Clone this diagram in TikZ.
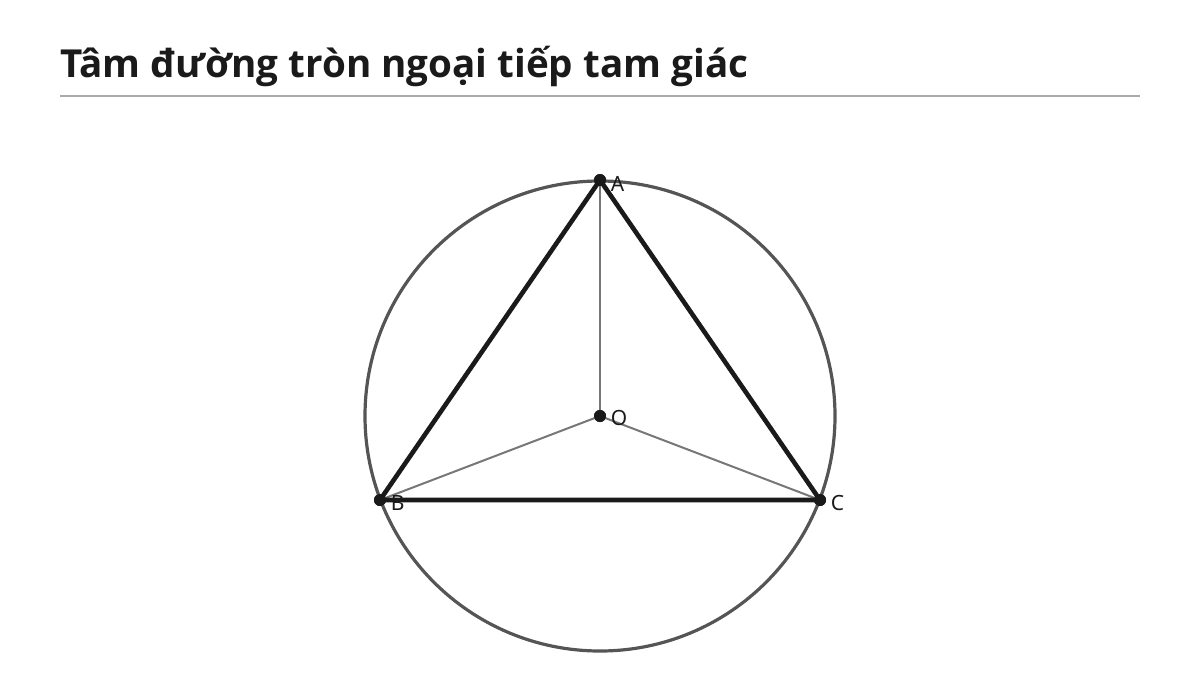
\documentclass[tikz,border=0pt]{standalone}
\usepackage{fontspec}
\setmainfont{Noto Sans}
\newfontfamily\headfont{Open Sans}
\usetikzlibrary{positioning}

\definecolor{ink}{HTML}{1A1A1A}
\definecolor{ringgray}{HTML}{555555}
\definecolor{radgray}{HTML}{777777}
\definecolor{rulegray}{HTML}{AAAAAA}

\begin{document}
\begin{tikzpicture}[
            x=0.5pt, y=-0.5pt,
            pnt/.style={circle, fill=ink, inner sep=0pt, minimum size=6pt},
            lbl/.style={font=\fontsize{10.5}{12}\selectfont, text=ink, inner sep=1pt},
            side/.style={line width=2.3pt, draw=ink},
            rad/.style={line width=1pt, draw=radgray}
        ]
        \useasboundingbox (0,0) rectangle (1200,675);

        % Title
        \node[anchor=base west, inner sep=0pt, text=ink, font=\headfont\fontsize{19.3}{22}\selectfont\bfseries] (title) at (60,77) {Tâm đường tròn ngoại tiếp tam giác};
        \coordinate (ruleL) at (60,96);
        \coordinate (ruleR) at (1140,96);
        \draw[rulegray, line width=1pt] (ruleL) -- (ruleR);

        % Points
        \node[pnt] (O) at (600,416) {};
        \node[pnt] (A) at (600,180) {};
        \node[pnt] (B) at (380,500) {};
        \node[pnt] (C) at (820,500) {};

        % Circumcircle
        \draw[ringgray, line width=1.6pt] (O.center) circle[radius=117.5pt];

        % Radii
        \draw[rad] (O.center) -- (A.center);
        \draw[rad] (O.center) -- (B.center);
        \draw[rad] (O.center) -- (C.center);

        % Triangle
        \draw[side, line join=round] (A.center) -- (B.center) -- (C.center) -- cycle;

        % Points on top
        \foreach \p in {A, B, C, O}
            \node[pnt] at (\p) {};

        % Labels
        \node[lbl, right=1pt of A, yshift=-2pt] (labA) {A};
        \node[lbl, right=1pt of B, yshift=-1.5pt] (labB) {B};
        \node[lbl, right=1pt of C, yshift=-1.5pt] (labC) {C};
        \node[lbl, right=1pt of O, yshift=-1pt] (labO) {O};
    \end{tikzpicture}
\end{document}
